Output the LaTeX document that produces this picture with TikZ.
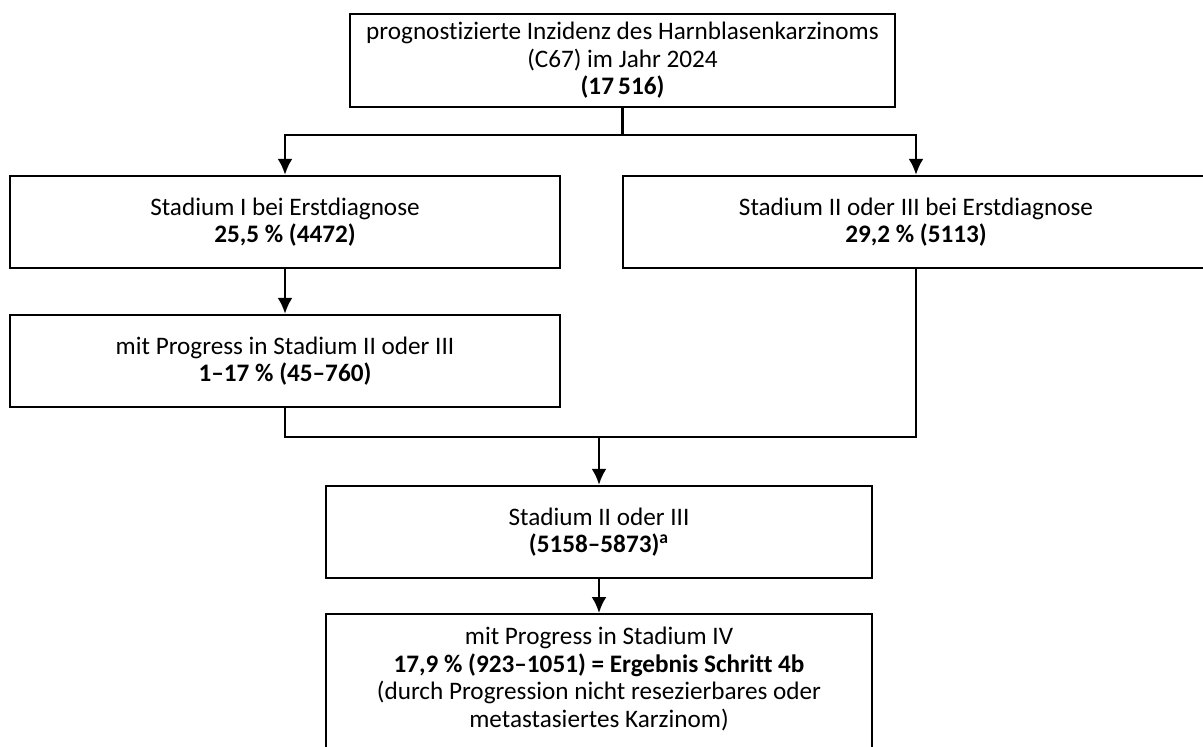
\documentclass[tikz,border=0pt]{standalone}
\usepackage{fontspec}
\setmainfont{Carlito}[Ligatures={NoCommon}]
\usetikzlibrary{arrows.meta, positioning}

\begin{document}
\begin{tikzpicture}[x=0.5pt, y=-0.5pt,
  box/.style={draw, line width=1.2pt, align=center, inner sep=0pt,
    font=\fontsize{12.6}{13.8}\selectfont},
  arr/.style={-{Latex[length=8pt, width=7.5pt]}, line width=1.2pt},
  conn/.style={line width=1.2pt}]
  \useasboundingbox (0,0) rectangle (1203,747);
  \clip (0,0) rectangle (1203,747);

  % boxes
  \node[box, minimum width=272.5pt, minimum height=46.5pt] (top) at (622.5,60.5)
    {prognostizierte Inzidenz des Harnblasenkarzinoms\\(C67) im Jahr 2024\\\textbf{(17\,516)}};
  \node[box, minimum width=275pt, minimum height=46pt] (s1) at (285,222)
    {Stadium I bei Erstdiagnose\\\textbf{25,5 \% (4472)}};
  \node[box, minimum width=293pt, minimum height=46pt] (s23) at (916,222)
    {Stadium II oder III bei Erstdiagnose\\\textbf{29,2 \% (5113)}};
  \node[box, minimum width=275pt, minimum height=46pt] (prog) at (285,361)
    {mit Progress in Stadium II oder III\\\textbf{1--17 \% (45--760)}};
  \node[box, minimum width=273pt, minimum height=46pt] (mid) at (599,532)
    {Stadium II oder III\\\textbf{(5158--5873)\textsuperscript{a}}};
  \node[box, minimum width=273pt, minimum height=80pt, anchor=north] (iv) at (599,613) {};
  \node[align=center, inner sep=0pt, font=\fontsize{12.6}{13.8}\selectfont] (ivtext) at (599,679)
    {mit Progress in Stadium IV\\\textbf{17,9 \% (923--1051) = Ergebnis Schritt 4b}\\(durch Progression nicht resezierbares oder\\metastasiertes Karzinom)};

  % connectors
  \coordinate (split) at (622.5,135);
  \coordinate (join) at (599,437);
  \draw[conn] (top) -- (split);
  \draw[arr] (split) -| (s1.north);
  \draw[arr] (split) -| (s23.north);
  \draw[arr] (s1) -- (prog);
  \draw[conn] (prog.south) |- (join);
  \draw[conn] (s23.south) |- (join);
  \draw[arr] (join) -- (mid);
  \draw[arr] (mid) -- (iv);
\end{tikzpicture}
\end{document}
